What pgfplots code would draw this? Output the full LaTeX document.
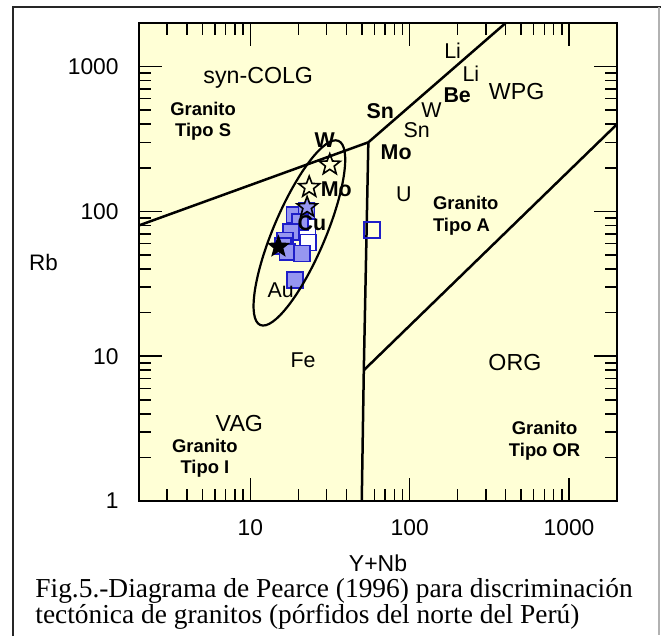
\documentclass[border=0pt]{standalone}
\usepackage{fontspec}
\setmainfont{Liberation Sans}
\newfontfamily\capfont{Liberation Serif}
\usepackage{pgfplots}
\pgfplotsset{compat=1.18}
\usetikzlibrary{shapes.geometric}

\definecolor{bgyellow}{RGB}{255,255,214}
\definecolor{sqfill}{RGB}{150,150,240}
\definecolor{sqedge}{RGB}{30,30,200}

% five-pointed star marks (open and filled)
\def\starpath{%
  \pgfpathmoveto{\pgfpointpolar{90}{\pgfplotmarksize}}%
  \pgfpathlineto{\pgfpointpolar{126}{0.42\pgfplotmarksize}}%
  \pgfpathlineto{\pgfpointpolar{162}{\pgfplotmarksize}}%
  \pgfpathlineto{\pgfpointpolar{198}{0.42\pgfplotmarksize}}%
  \pgfpathlineto{\pgfpointpolar{234}{\pgfplotmarksize}}%
  \pgfpathlineto{\pgfpointpolar{270}{0.42\pgfplotmarksize}}%
  \pgfpathlineto{\pgfpointpolar{306}{\pgfplotmarksize}}%
  \pgfpathlineto{\pgfpointpolar{342}{0.42\pgfplotmarksize}}%
  \pgfpathlineto{\pgfpointpolar{18}{\pgfplotmarksize}}%
  \pgfpathlineto{\pgfpointpolar{54}{0.42\pgfplotmarksize}}%
  \pgfpathclose}
\pgfdeclareplotmark{ostar}{\starpath\pgfusepathqstroke}
\pgfdeclareplotmark{fstar}{\starpath\pgfusepathqfillstroke}

\newcommand\rf{\fontsize{11.6}{13}\selectfont}
\newcommand\ef{\fontsize{10.7}{12}\selectfont}
\newcommand\gf{\bfseries\fontsize{9.2}{10.75}\selectfont}

\begin{document}
\begin{tikzpicture}
\path (0,0) rectangle (331pt,318pt);
% outer frame
\draw[line width=1pt, black!85] (6.25pt,0) -- (6.25pt,314.25pt) -- (330.5pt,314.25pt);
\draw[line width=0.6pt, black!30] (329.5pt,314.25pt) -- (329.5pt,0.3pt);

\begin{axis}[
  set layers,
  at={(69.5pt,67.5pt)}, anchor=south west,
  width=239pt, height=239pt, scale only axis,
  xmode=log, ymode=log,
  xmin=2, xmax=2000, ymin=1, ymax=2000,
  axis background/.style={fill=bgyellow},
  axis line style={line width=1pt},
  xtick={10,100,1000}, xticklabels={10,100,1000},
  ytick={1,10,100,1000}, yticklabels={1,10,100,1000},
  minor xtick={3,4,5,6,7,8,9,20,30,40,50,60,70,80,90,200,300,400,500,600,700,800,900},
  minor ytick={2,3,4,5,6,7,8,9,20,30,40,50,60,70,80,90,200,300,400,500,600,700,800,900},
  tick align=inside,
  major tick length=11.5pt, minor tick length=6pt,
  tick style={black, line width=0.75pt},
  tick label style={font=\fontsize{11.4}{13}\selectfont},
  xticklabel style={inner sep=0pt, yshift=-9pt},
  yticklabel style={inner sep=0pt, xshift=-10pt},
  xlabel={Y+Nb}, ylabel={Rb},
  every axis x label/.style={at={(axis description cs:0.5,-0.1297)}, anchor=center, font=\fontsize{11.5}{13}\selectfont},
  every axis y label/.style={at={(axis description cs:-0.2,0.5)}, anchor=center, font=\fontsize{11.2}{13}\selectfont},
]
% field boundaries (Pearce)
\addplot[black, line width=1.25pt] coordinates {(2,80) (55,300) (400,2000)};
\addplot[black, line width=1.25pt] coordinates {(55,300) (51.5,8) (50,1)};
\addplot[black, line width=1.25pt] coordinates {(51.5,8) (2000,400)};

% samples
\addplot[only marks, mark=square*, mark size=4pt, mark options={draw=sqedge, fill=white, line width=0.9pt}]
  coordinates {(22.8,78) (23,61)};
\addplot[only marks, mark=square*, mark size=4pt, mark options={draw=sqedge, fill=sqfill, line width=0.9pt}]
  coordinates {(18.9,94) (22.5,100) (20.6,85) (17.9,72) (16.5,63) (16.1,58) (17.1,52.5) (21.1,51.2) (19,33.5)};
\addplot[only marks, mark=square, mark size=4pt, mark options={draw=sqedge, line width=0.9pt}]
  coordinates {(58,74)};
\addplot[only marks, mark=ostar, mark size=5.5pt, mark options={draw=black, line width=0.8pt}]
  coordinates {(31.5,210) (23.4,147)};
\addplot[only marks, mark=fstar, mark size=5.3pt, mark options={draw=black, fill=sqfill, line width=0.8pt}]
  coordinates {(22.7,107)};
\addplot[only marks, mark=fstar, mark size=5.3pt, mark options={draw=black, fill=black, line width=0.6pt}]
  coordinates {(15,57)};

\begin{pgfonlayer}{axis foreground}
% ellipse around porphyries
\node[draw, ellipse, rotate=67, minimum width=100pt, minimum height=26pt, inner sep=0pt, line width=1.1pt] at (axis cs:20.3,71) {};

% field names
\node[font=\rf] at (axis cs:11.2,839) {syn-COLG};
\node[font=\rf] at (axis cs:469,670) {WPG};
\node[font=\rf] at (axis cs:8.53,3.41) {VAG};
\node[font=\rf] at (axis cs:457,9.06) {ORG};
\node[font=\gf, align=center] at (axis cs:5.05,418) {Granito\\Tipo S};
\node[font=\gf, align=center] at (axis cs:5.18,1.98) {Granito\\Tipo I};
\node[font=\gf, align=left, anchor=west] at (axis cs:126.5,93.3) {Granito\\Tipo A};
\node[font=\gf, align=center] at (axis cs:702,2.61) {Granito\\Tipo OR};

% elements
\node[font=\ef\bfseries] at (axis cs:29.3,309) {W};
\node[font=\ef\bfseries] at (axis cs:34.6,143) {Mo};
\node[font=\ef\bfseries] at (axis cs:24.3,82.8) {Cu};
\node[font=\ef] at (axis cs:15.5,28.6) {Au};
\node[font=\ef] at (axis cs:21.4,9.35) {Fe};
\node[font=\ef\bfseries] at (axis cs:65.3,492) {Sn};
\node[font=\ef\bfseries] at (axis cs:82.2,255) {Mo};
\node[font=\ef] at (axis cs:91.9,131) {U};
\node[font=\ef] at (axis cs:110.6,364) {Sn};
\node[font=\ef] at (axis cs:137,502) {W};
\node[font=\ef\bfseries] at (axis cs:198.6,637) {Be};
\node[font=\ef] at (axis cs:186,1294) {Li};
\node[font=\ef] at (axis cs:242,896) {Li};
\end{pgfonlayer}
\end{axis}

% caption
\node[anchor=base west, inner sep=0pt, font=\capfont\fontsize{13.7}{13}\selectfont] at (17.5pt,19.5pt)
  {Fig.5.-Diagrama de Pearce (1996) para discriminación};
\node[anchor=base west, inner sep=0pt, font=\capfont\fontsize{13.7}{13}\selectfont] at (17.5pt,6.5pt)
  {tectónica de granitos (pórfidos del norte del Perú)};
\end{tikzpicture}
\end{document}
